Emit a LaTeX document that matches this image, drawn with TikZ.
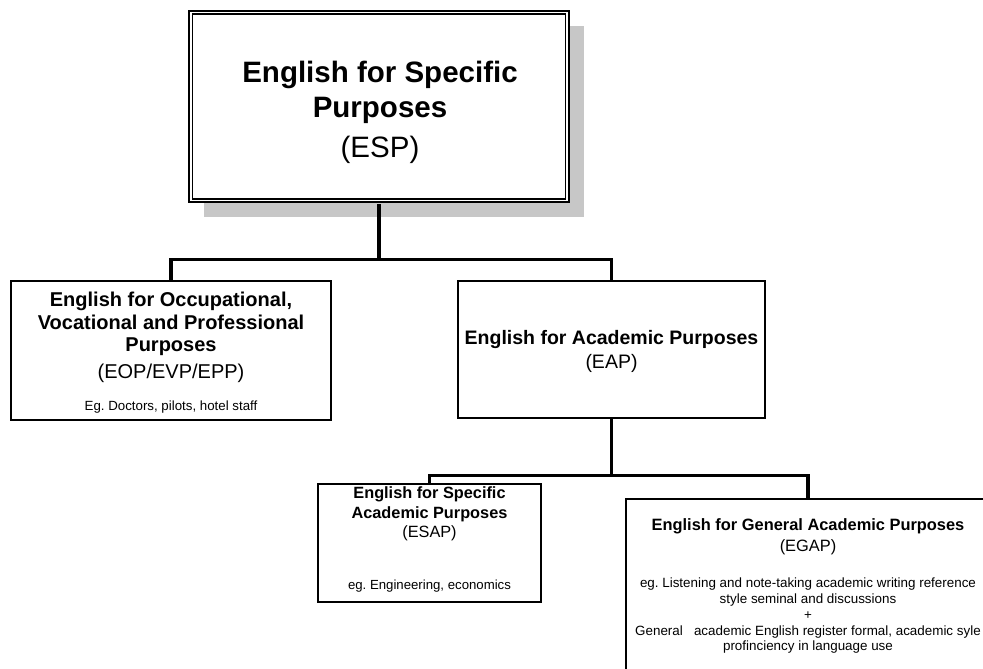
\documentclass[tikz,border=0pt]{standalone}
\usepackage{fontspec}
\setmainfont{Liberation Sans}
\usetikzlibrary{shadows}
\frenchspacing

\tikzset{
  box/.style={draw, line width=1.6pt, rectangle, outer sep=0pt, inner sep=0pt},
  boxtext/.style={anchor=north, align=center, inner sep=0pt},
  conn/.style={line width=3.4pt},
}

\begin{document}
\begin{tikzpicture}[x=1pt, y=-1pt]
    % page frame
    \useasboundingbox (0,0) rectangle (983,669);
    \clip (0,0) rectangle (983,669);
    \fill[white] (0,0) rectangle (983,669);

    % top box, double frame with shadow
    \node[box, line width=2.3pt, fill=white,
          minimum width=379.8pt, minimum height=191.5pt,
          drop shadow={shadow xshift=15pt, shadow yshift=-15pt, fill=black!22, opacity=1}]
          (esp) at (379.1,106.5) {};
    \draw[line width=1.3pt] ([shift={(3.4pt,-3.4pt)}]esp.north west)
        rectangle ([shift={(-3.4pt,3.4pt)}]esp.south east);
    \node[boxtext, font=\fontsize{29.5}{35.4}\selectfont] (esptext) at (380,60.8)
        {\textbf{English for Specific}\\ \textbf{Purposes}\\[4.6pt] (ESP)};

    % second level
    \node[box, minimum width=320.4pt, minimum height=139.4pt] (eop) at (171,350.5) {};
    \node[boxtext, font=\fontsize{20}{22.5}\selectfont] (eoptext) at (171,292.1)
        {\textbf{English for Occupational,}\\ \textbf{Vocational and Professional}\\
         \textbf{Purposes}\\[4pt] (EOP/EVP/EPP)\\[10.2pt]
         {\fontsize{13.3}{15}\selectfont Eg. Doctors, pilots, hotel staff}};

    \node[box, minimum width=307.4pt, minimum height=137.4pt] (eap) at (611.5,349.5) {};
    \node[boxtext, font=\fontsize{19.5}{24.3}\selectfont] (eaptext) at (611.5,329.8)
        {\textbf{English for Academic Purposes}\\ (EAP)};

    % third level
    \node[box, minimum width=223.4pt, minimum height=118.4pt] (esap) at (429.5,543) {};
    \node[boxtext, font=\fontsize{16.3}{19.7}\selectfont] (esaptext) at (429.5,486.4)
        {\textbf{English for Specific}\\ \textbf{Academic Purposes}\\ (ESAP)\\[31.6pt]
         {\fontsize{13.2}{15}\selectfont eg. Engineering, economics}};

    \node[box, minimum width=364.4pt, minimum height=250pt, anchor=north] (egap) at (808,498.8) {};
    \node[boxtext, font=\fontsize{16.4}{21}\selectfont] (egaptitle) at (808,518.7)
        {\textbf{English for General Academic Purposes}\\ (EGAP)};
    \node[boxtext, font=\fontsize{13.4}{15.7}\selectfont] (egapnote) at (808,578)
        {eg. Listening and note-taking academic writing reference\\
         style seminal and discussions\\ +\\
         General\ \ \ academic English register formal, academic syle\\
         profinciency in language use};

    % connectors
    \draw[conn, shorten <=2pt] (esp.south) -- ++(0,57) coordinate (split1);
    \draw[conn] (eop.north) |- (split1) -| (eap.north);
    \draw[conn] (eap.south) -- ++(0,57) coordinate (split2);
    \draw[conn] (esap.north) |- (split2) -| (egap.north);
\end{tikzpicture}
\end{document}
